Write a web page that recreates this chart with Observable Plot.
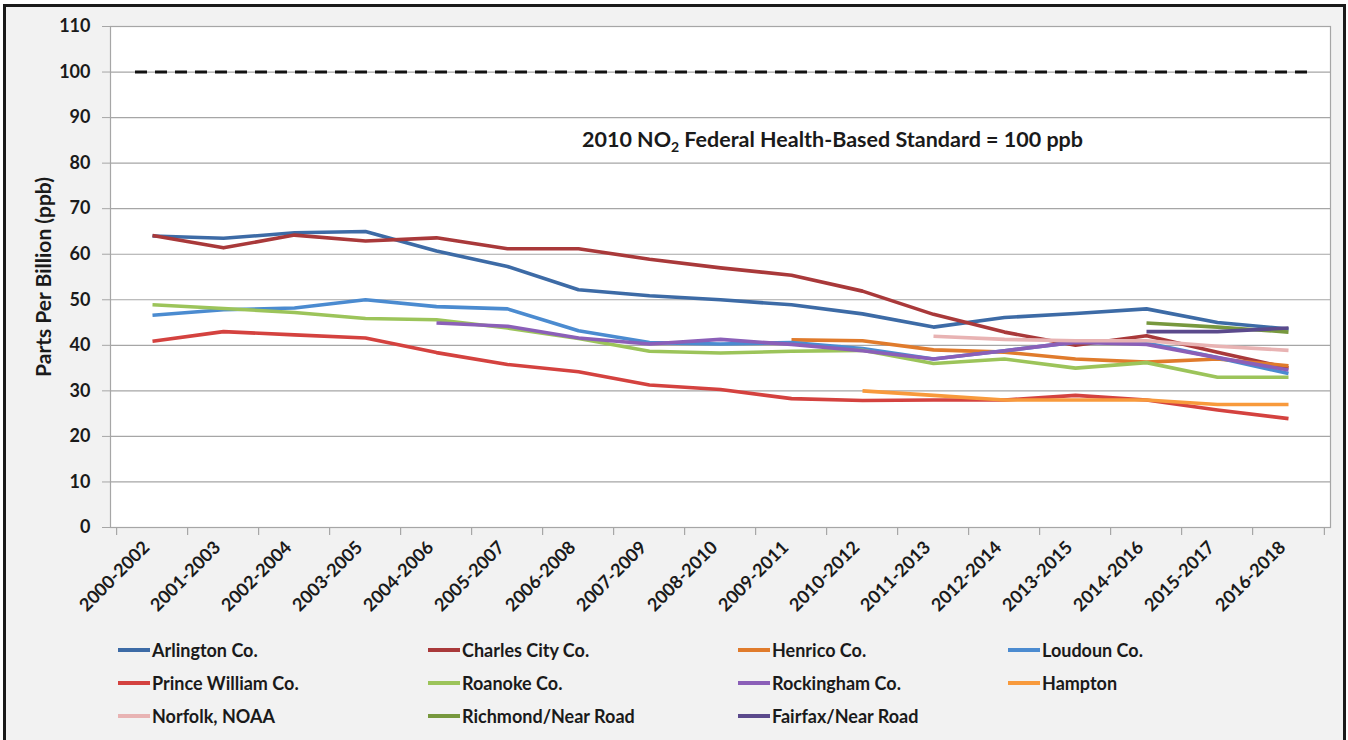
<!DOCTYPE html>
<html>
<head>
<meta charset="utf-8">
<script src="https://cdn.jsdelivr.net/npm/d3@7"></script>
<script src="https://cdn.jsdelivr.net/npm/@observablehq/plot@0.6"></script>
<style>
  body { margin: 0; background: #ffffff; font-family: Lato, "Open Sans", sans-serif; }
  #frame { position: absolute; left: 3px; top: 4px; width: 1337px; height: 760px; border: 3px solid #1a1a1a; background: #f2f2f2; overflow: hidden; }
  #chart { position: absolute; left: 0; top: 0; }
  .lg { position: absolute; display: flex; align-items: center; height: 24px; font: bold 18px Lato, sans-serif; color: #1a1a1a; white-space: nowrap; }
  .lg .sw { width: 32px; height: 4px; margin-right: 2px; }
</style>
</head>
<body>
<div id="frame">
  <div id="chart"></div>
  <div id="legend"></div>
</div>
<script>
// ---- data ----
const periods = ["2000-2002","2001-2003","2002-2004","2003-2005","2004-2006","2005-2007","2006-2008","2007-2009","2008-2010","2009-2011","2010-2012","2011-2013","2012-2014","2013-2015","2014-2016","2015-2017","2016-2018"];
const seriesNames = ["Arlington Co.","Charles City Co.","Henrico Co.","Loudoun Co.","Prince William Co.","Roanoke Co.","Rockingham Co.","Hampton","Norfolk, NOAA","Richmond/Near Road","Fairfax/Near Road"];
const seriesColors = ["#3d6ba6","#a9393a","#e07b2c","#4b8bd0","#d4423f","#9cc45a","#8b5fb8","#f89a3c","#e8b3b3","#77983e","#5b4a8c"];

const arlington     = [64, 63.5, 64.7, 65, 60.7, 57.3, 52.2, 50.9, 50, 48.9, 46.9, 44, 46.1, 47, 48, 45, 43.6];
const charlesCity   = [64.1, 61.4, 64.2, 62.9, 63.6, 61.2, 61.2, 58.9, 57, 55.4, 51.9, 46.8, 42.9, 40, 42.1, 38.5, 35];
const henrico       = [null, null, null, null, null, null, null, null, null, 41.2, 41, 39, 38.5, 37, 36.3, 37, 35.5];
const loudoun       = [46.6, 47.8, 48.2, 50, 48.5, 48, 43.2, 40.6, 40.3, 40.6, 39.3, 37, 38.8, 40.7, 40.5, 37.3, 33.8];
const princeWilliam = [40.9, 43, 42.3, 41.6, 38.4, 35.8, 34.2, 31.3, 30.3, 28.3, 27.9, 28, 28, 29, 28, 25.8, 23.9];
const roanoke       = [48.9, 48.1, 47.2, 45.9, 45.6, 43.8, 41.5, 38.7, 38.3, 38.7, 38.9, 36, 37, 35, 36.2, 33, 33];
const rockingham    = [null, null, null, null, 44.9, 44.2, 41.6, 40.3, 41.3, 40.2, 38.8, 37, 38.8, 40.7, 40.2, 37.3, 34.6];
const hampton       = [null, null, null, null, null, null, null, null, null, null, 30, 29, 28, 28, 28, 27, 27];
const norfolk       = [null, null, null, null, null, null, null, null, null, null, null, 42, 41.3, 41, 41, 39.8, 38.9];
const richmond      = [null, null, null, null, null, null, null, null, null, null, null, null, null, null, 44.9, 44, 42.9];
const fairfax       = [null, null, null, null, null, null, null, null, null, null, null, null, null, null, 43, 43, 43.8];

const yTicks = [0, 10, 20, 30, 40, 50, 60, 70, 80, 90, 100, 110];
const standardValue = [100];
const yLabel = "Parts Per Billion (ppb)";
const noteText = "2010 NO2 Federal Health-Based Standard = 100 ppb";
const notePeriod = ["2009-2011"];
const noteValue = [85];

// ---- build table ----
const allSeries = [arlington, charlesCity, henrico, loudoun, princeWilliam, roanoke, rockingham, hampton, norfolk, richmond, fairfax];
const rows = [];
allSeries.forEach((vals, s) => {
  vals.forEach((v, i) => { if (v != null) rows.push({series: seriesNames[s], period: periods[i], value: v}); });
});

const W = 1337, H = 632, mL = 104, mR = 13, mT = 19, mB = 112;
const step = (W - mL - mR) / periods.length;
const tickStroke = "#a6a6a6";

const chart = Plot.plot({
  width: W, height: H,
  marginLeft: mL, marginRight: mR, marginTop: mT, marginBottom: mB,
  style: {background: "transparent", color: "#1a1a1a", fontFamily: "Lato, sans-serif", overflow: "visible"},
  x: {type: "point", domain: periods, padding: 0.5, axis: null},
  y: {domain: [0, 110], axis: null},
  color: {domain: seriesNames, range: seriesColors},
  marks: [
    Plot.frame({fill: "white", stroke: null}),
    Plot.gridY(yTicks, {stroke: tickStroke, strokeOpacity: 1, strokeWidth: 1.2}),
    Plot.frame({stroke: tickStroke, strokeWidth: 1.2}),
    Plot.ruleY(standardValue, {stroke: "#111", strokeWidth: 3, strokeDasharray: "12,8", insetLeft: 25, insetRight: 20}),
    Plot.line(rows, {x: "period", y: "value", z: "series", stroke: "series", strokeWidth: 3.6, strokeLinejoin: "round", strokeLinecap: "butt"}),
    Plot.axisY(yTicks, {tickSize: 8, tickPadding: 12, stroke: tickStroke, fontSize: 18, fontWeight: "bold", label: null}),
    Plot.ruleX(periods, {x: d => d, y1: () => 0, y2: () => 0, dx: -step / 2, insetBottom: -8, stroke: tickStroke, strokeWidth: 1.2}),
    Plot.ruleX(periods.slice(-1), {x: d => d, y1: () => 0, y2: () => 0, dx: step / 2, insetBottom: -8, stroke: tickStroke, strokeWidth: 1.2}),
    Plot.axisX(periods, {tickSize: 0, tickPadding: 12, tickRotate: -45, fontSize: 18, fontWeight: "bold", label: null, dx: -6, dy: 5, className: "xlab"}),
    Plot.text([yLabel], {frameAnchor: "left", textAnchor: "middle", rotate: -90, dx: -66, fontSize: 21, fontWeight: "bold", text: d => d}),
    Plot.text([noteText], {x: () => notePeriod[0], y: () => noteValue[0], dx: 41, text: d => d, fontSize: 21.5, fontWeight: "bold", className: "note"})
  ]
});
document.getElementById("chart").appendChild(chart);

// subscript for NO2
d3.select(chart).selectAll("g.note text").each(function() {
  const t = d3.select(this);
  t.text(null);
  t.append("tspan").text("2010 NO");
  t.append("tspan").attr("dy", 5).attr("font-size", 14).text("2");
  t.append("tspan").attr("dy", -5).text(" Federal Health-Based Standard = 100 ppb");
});

// ---- legend ----
const legendCols = [112, 422, 732, 1002];
const legendRows = [631, 664, 697];
const lg = document.getElementById("legend");
seriesNames.forEach((name, i) => {
  const d = document.createElement("div");
  d.className = "lg";
  d.style.left = legendCols[i % 4] + "px";
  d.style.top = legendRows[Math.floor(i / 4)] + "px";
  const sw = document.createElement("span");
  sw.className = "sw";
  sw.style.background = seriesColors[i];
  d.appendChild(sw);
  d.appendChild(document.createTextNode(name));
  lg.appendChild(d);
});
</script>
</body>
</html>
